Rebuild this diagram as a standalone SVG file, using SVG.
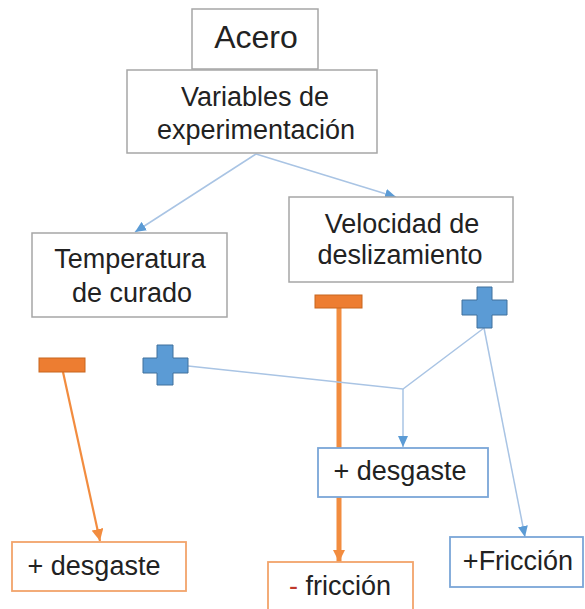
<svg xmlns="http://www.w3.org/2000/svg" width="585" height="609" viewBox="0 0 585 609">
<defs>
<style>
.t{font-family:"Liberation Sans",Arial,sans-serif;font-size:27px;fill:#222;text-anchor:middle}
.gb{fill:#fff;stroke:#a6a6a6;stroke-width:1.5}
.bb{fill:#fff;stroke:#7aa6d8;stroke-width:1.8}
.ob{fill:#fff;stroke:#f2a46b;stroke-width:1.8}
.bl{fill:none;stroke:#a9c4e4;stroke-width:1.5}
.ol{fill:none;stroke:#f28c3f}
.minus{fill:#ed7d31;stroke:#c8661f;stroke-width:1}
.plus{fill:#5b9bd5;stroke:#41719c;stroke-width:1}
</style>
<marker id="ab" markerUnits="userSpaceOnUse" markerWidth="12" markerHeight="10" refX="11" refY="5" orient="auto"><path d="M0,0 L11,5 L0,10 Z" fill="#5b9bd5"/></marker>
<marker id="ao" markerUnits="userSpaceOnUse" markerWidth="13" markerHeight="12" refX="12" refY="6" orient="auto"><path d="M0,0 L12,6 L0,12 Z" fill="#f28c3f"/></marker>
</defs>
<rect width="585" height="609" fill="#fff"/>
<g id="connectors">
<line class="bl" x1="256" y1="154" x2="135" y2="232" marker-end="url(#ab)"/>
<line class="bl" x1="256" y1="154" x2="396" y2="197" marker-end="url(#ab)"/>
<line class="ol" stroke-width="2.2" x1="63" y1="372" x2="100" y2="541" marker-end="url(#ao)"/>
<line class="ol" stroke-width="5" x1="339" y1="308" x2="339" y2="562" marker-end="url(#ao)"/>
<polyline class="bl" points="188,366 403,389 484,328"/>
<line class="bl" x1="403" y1="389" x2="403" y2="447" marker-end="url(#ab)"/>
<line class="bl" x1="484" y1="328" x2="525" y2="537" marker-end="url(#ab)"/>
</g>
<g id="acero"><rect class="gb" x="192" y="9" width="126" height="60"/><text class="t" x="256" y="48" style="font-size:32px">Acero</text></g>
<g id="variables"><rect class="gb" x="127" y="70" width="250" height="83"/><text class="t" x="255" y="106">Variables de</text><text class="t" x="256" y="139">experimentación</text></g>
<g id="temperatura"><rect class="gb" x="32" y="233" width="195" height="84"/><text class="t" x="130" y="268">Temperatura</text><text class="t" x="132" y="302">de curado</text></g>
<g id="velocidad"><rect class="gb" x="289" y="197" width="224" height="85"/><text class="t" x="402" y="233">Velocidad de</text><text class="t" x="400" y="264">deslizamiento</text></g>
<g id="minus-left"><rect class="minus" x="39" y="358" width="46" height="14"/></g>
<g id="plus-left"><path class="plus" d="M157,345 H173 V358 H188 V373 H173 V385 H157 V373 H143 V358 H157 Z"/></g>
<g id="minus-mid"><rect class="minus" x="315" y="295" width="47" height="13"/></g>
<g id="plus-right"><path class="plus" d="M477,287 H492 V300 H507 V315 H492 V328 H477 V315 H462 V300 H477 Z"/></g>
<g id="desgaste-mid"><rect class="bb" x="318" y="448" width="170" height="49"/><text class="t" x="400" y="480">+ desgaste</text></g>
<g id="desgaste-left"><rect class="ob" x="12" y="542" width="174" height="49"/><text class="t" x="94" y="575">+ desgaste</text></g>
<g id="friccion-minus"><rect class="ob" x="268" y="562" width="145" height="52"/><text class="t" x="340" y="595"><tspan fill="#c0392b">-</tspan> fricción</text></g>
<g id="friccion-plus"><rect class="bb" x="450" y="537" width="133" height="50"/><text class="t" x="518" y="570">+Fricción</text></g>
</svg>
